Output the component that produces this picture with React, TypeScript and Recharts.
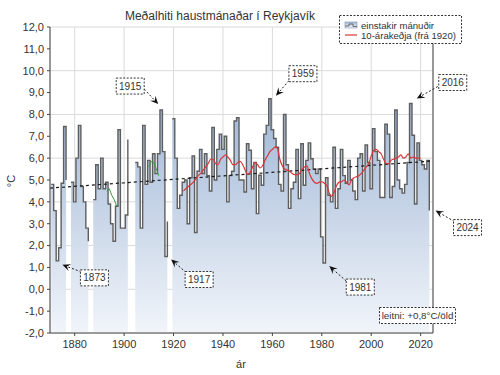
import {
  ComposedChart,
  Area,
  Line,
  XAxis,
  YAxis,
  CartesianGrid,
  ReferenceLine,
  ReferenceDot,
} from 'recharts';

const FONT = '"Liberation Sans", Arial, sans-serif';

// haustmánuður, eitt gildi á ári frá 1871 (null = vantar)
const FIRST_YEAR = 1871;
const temps: (number | null)[] = [
  4.8, 3.6, 1.3, 1.9, 4.85, 7.45, 5.0, null, 4.9, 4.0, // 1871-1880
  6.0, 7.5, 4.7, 4.0, 2.8, 2.2, null, 4.1, 5.7, 4.6, // 1881-1890
  6.0, 4.6, 4.9, 3.9, 3.0, 2.2, 3.8, 7.3, 2.8, 2.8, // 1891-1900
  3.4, 6.85, null, null, 5.8, 5.6, 2.8, 7.5, 4.8, 5.9, // 1901-1910
  4.9, 6.2, 5.3, 6.2, 8.2, 6.3, 1.5, 3.1, null, 7.8, // 1911-1920
  6.0, 3.7, 4.3, 4.9, 5.0, 3.0, 5.1, 6.1, 2.6, 5.4, // 1921-1930
  6.4, 5.3, 6.2, 5.2, 4.5, 7.4, 5.0, 6.4, 7.1, 6.4, // 1931-1940
  7.0, 4.0, 5.2, 5.4, 7.7, 7.85, 5.0, 5.0, 4.45, 6.66, // 1941-1950
  6.36, 4.6, 5.8, 3.46, 5.22, 4.76, 7.1, 7.5, 8.72, 7.3, // 1951-1960
  6.9, 6.5, 4.8, 4.5, 8.0, 5.7, 3.7, 4.6, 4.9, 6.4, // 1961-1970
  4.15, 6.66, 4.76, 5.9, 6.7, 5.97, 5.5, 5.3, 5.5, 2.4, // 1971-1980
  1.2, 5.1, 4.3, 4.0, 6.5, 3.7, 4.6, 6.4, 5.2, 4.85, // 1981-1990
  5.9, 5.0, 4.5, 4.1, 6.0, 6.2, 4.5, 6.6, 5.8, 4.6, // 1991-2000
  7.35, 6.3, 5.9, 4.2, 4.2, 7.55, 7.1, 4.2, 4.7, 8.2, // 2001-2010
  5.0, 4.6, 4.4, 4.8, 5.8, 8.5, 7.05, 3.9, 6.7, 5.9, // 2011-2020
  5.7, 5.5, 5.9, 3.6, // 2021-2024
];

// 10-árakeðja, lesin af myndinni
const AVG_START = 1924;
const avg10 = [
  4.5, 4.6, 4.7, 4.8, 4.9, 5.05, 5.2, 5.3, 5.45, 5.6,
  5.75, 5.95, 5.95, 5.75, 5.7, 5.95, 6.05, 6.15, 6.05, 5.9,
  5.7, 5.7, 5.8, 5.85, 5.7, 5.45, 5.25, 5.35, 5.6, 5.8,
  5.7, 5.55, 5.65, 5.9, 6.1, 6.3, 6.4, 6.5, 6.45, 5.95,
  5.65, 5.5, 5.45, 5.4, 5.3, 5.25, 5.25, 5.3, 5.5, 5.6,
  5.65, 5.3, 5.05, 4.9, 4.85, 4.9, 4.92, 4.85, 4.75, 4.4,
  4.25, 4.45, 4.75, 4.9, 4.92, 5.0, 4.9, 4.78, 5.0, 5.1,
  5.15, 5.2, 5.3, 5.45, 5.6, 5.75, 6.1, 6.35, 6.4, 6.3,
  6.2, 5.95, 5.75, 5.75, 5.9, 5.95, 6.0, 6.05, 6.15, 6.0,
  6.05, 6.2, 6.0, 6.05, 6.0, 6.0, 6.0,
];

// stuttir grænir bútar fyrir 1920
const GREEN1_START = 1893;
const green1 = [4.5, 4.6, 4.3, 4.1, 3.8];
const GREEN2_START = 1910;
const green2 = [5.6, 5.85, 5.8, 5.5, 5.2];

// leitni
const trendYears = [1870, 2025];
const trendValues = [4.63, 5.87];

const xTicks = [1880, 1900, 1920, 1940, 1960, 1980, 2000, 2020];
const yTicks = [-2, -1, 0, 1, 2, 3, 4, 5, 6, 7, 8, 9, 10, 11, 12];

const calloutYears = [1873, 1915, 1917, 1959, 1981, 2016, 2024];

// pixel offsets from the marked point: arrow tip, arrow tail, box centre
const calloutLayout: Record<number, { tip: number[]; tail: number[]; box: number[] }> = {
  1873: { tip: [5, 4], tail: [24, 11], box: [37, 17] },
  1915: { tip: [-3, -6], tail: [-17, -21], box: [-31, -24] },
  1917: { tip: [5, 3], tail: [20, 16], box: [33, 23] },
  1959: { tip: [6, -3], tail: [19, -18], box: [33, -25] },
  1981: { tip: [5, 3], tail: [22, 18], box: [36, 24] },
  2016: { tip: [6, -5], tail: [27, -17], box: [42, -21] },
  2024: { tip: [5, 0], tail: [24, 11], box: [37, 17] },
};

const stepRows = temps.map((t, i) => ({ x: FIRST_YEAR + i - 0.5, t }));
const avgRows = avg10.map((v, i) => ({ x: AVG_START + i, v }));
const green1Rows = green1.map((v, i) => ({ x: GREEN1_START + i, v }));
const green2Rows = green2.map((v, i) => ({ x: GREEN2_START + i, v }));

const fmt = (v: number) => v.toFixed(1).replace('.', ',');

function Callout(props: any) {
  const { cx, cy, label } = props;
  const lay = calloutLayout[label];
  const tx = cx + lay.tip[0];
  const ty = cy + lay.tip[1];
  const sx = cx + lay.tail[0];
  const sy = cy + lay.tail[1];
  const bx = cx + lay.box[0];
  const by = cy + lay.box[1];
  const a = Math.atan2(ty - sy, tx - sx);
  const L = 8;
  const W = 3.6;
  const c = Math.cos(a);
  const s = Math.sin(a);
  const nx = tx - 0.6 * L * c;
  const ny = ty - 0.6 * L * s;
  const p1 = `${tx - L * c + W * s},${ty - L * s - W * c}`;
  const p2 = `${tx - L * c - W * s},${ty - L * s + W * c}`;
  return (
    <g>
      <line x1={sx} y1={sy} x2={nx} y2={ny} stroke="#222" strokeWidth={1} strokeDasharray="2 2" />
      <polygon points={`${tx},${ty} ${p1} ${nx},${ny} ${p2}`} fill="#111" />
      <rect x={bx - 14} y={by - 8} width={28} height={16} fill="#fff" stroke="#333" strokeDasharray="2 1.5" />
      <text x={bx} y={by + 3.6} textAnchor="middle" fontSize={10} fontFamily={FONT} fill="#333">
        {label}
      </text>
    </g>
  );
}

export default function App() {
  return (
    <div style={{ position: 'absolute', left: 0, top: 0, width: 500, height: 375, background: '#fff' }}>
      <ComposedChart width={500} height={375} margin={{ top: 27, right: 67, bottom: 12, left: 0 }}>
        <defs>
          <linearGradient id="tempFill" x1="0" y1="0" x2="0" y2="1">
            <stop offset="0%" stopColor="#9fb6d6" />
            <stop offset="55%" stopColor="#cdd9ea" />
            <stop offset="100%" stopColor="#f1f5fa" />
          </linearGradient>
        </defs>
        <CartesianGrid stroke="#dadada" />
        <XAxis
          dataKey="x"
          type="number"
          domain={[1870, 2025]}
          ticks={xTicks}
          allowDataOverflow
          height={30}
          tickSize={3}
          tickMargin={4}
          stroke="#444"
          tick={{ fontSize: 11, fill: '#333', fontFamily: FONT }}
        />
        <YAxis
          type="number"
          domain={[-2, 12]}
          ticks={yTicks}
          width={50}
          tickSize={3}
          tickMargin={3}
          stroke="#444"
          tickFormatter={fmt}
          tick={{ fontSize: 11, fill: '#333', fontFamily: FONT }}
        />
        <ReferenceLine x={2025} stroke="#444" />
        <Area
          data={stepRows}
          dataKey="t"
          type="stepAfter"
          baseValue={-2}
          stroke="#5e5e5e"
          strokeWidth={1.4}
          fill="url(#tempFill)"
          fillOpacity={1}
          connectNulls={false}
          dot={false}
          activeDot={false}
          isAnimationActive={false}
        />
        <ReferenceLine
          segment={[
            { x: trendYears[0], y: trendValues[0] },
            { x: trendYears[1], y: trendValues[1] },
          ]}
          stroke="#1a1a1a"
          strokeWidth={1.2}
          strokeDasharray="3 3"
        />
        <Line data={green1Rows} dataKey="v" type="linear" stroke="#3a9a44" strokeWidth={1} dot={false} isAnimationActive={false} />
        <Line data={green2Rows} dataKey="v" type="linear" stroke="#3a9a44" strokeWidth={1} dot={false} isAnimationActive={false} />
        <Line data={avgRows} dataKey="v" type="monotone" stroke="#d8363a" strokeWidth={1.2} dot={false} isAnimationActive={false} />
        {calloutYears.map((y) => (
          <ReferenceDot
            key={y}
            x={y}
            y={temps[y - FIRST_YEAR] as number}
            shape={(p: any) => <Callout {...p} label={y} />}
          />
        ))}
      </ComposedChart>
      <svg
        width={500}
        height={375}
        style={{ position: 'absolute', left: 0, top: 0, pointerEvents: 'none' }}
        fontFamily={FONT}
      >
        <text x={220} y={19.5} textAnchor="middle" fontSize={12} fill="#333">
          Meðalhiti haustmánaðar í Reykjavík
        </text>
        {/* legend */}
        <rect x={339.5} y={15.5} width={122} height={28} fill="#fff" stroke="#333" strokeDasharray="2 1.5" />
        <rect x={345} y={22} width={12} height={6} fill="url(#tempFill)" stroke="#7d93b5" strokeWidth={0.6} />
        <polyline points="345,26 349,26 349,24 353,24 353,26.5 357,26.5" fill="none" stroke="#555" strokeWidth={0.8} />
        <text x={361} y={28.5} fontSize={9.6} fill="#333">einstakir mánuðir</text>
        <line x1={345} x2={357} y1={35} y2={35} stroke="#d8363a" strokeWidth={1.2} />
        <text x={361} y={38.5} fontSize={9.6} fill="#333">10-árakeðja (frá 1920)</text>
        {/* axis titles */}
        <text transform="translate(15,181) rotate(-90)" textAnchor="middle" fontSize={11} fill="#333">
          °C
        </text>
        <text x={241} y={368} textAnchor="middle" fontSize={11} fill="#333">
          ár
        </text>
        {/* trend box */}
        <rect x={379.5} y={307.5} width={76} height={16} fill="#fff" stroke="#333" strokeDasharray="2 1.5" />
        <text x={417.5} y={319} textAnchor="middle" fontSize={9.8} fill="#333">
          leitni: +0,8°C/öld
        </text>
      </svg>
    </div>
  );
}
